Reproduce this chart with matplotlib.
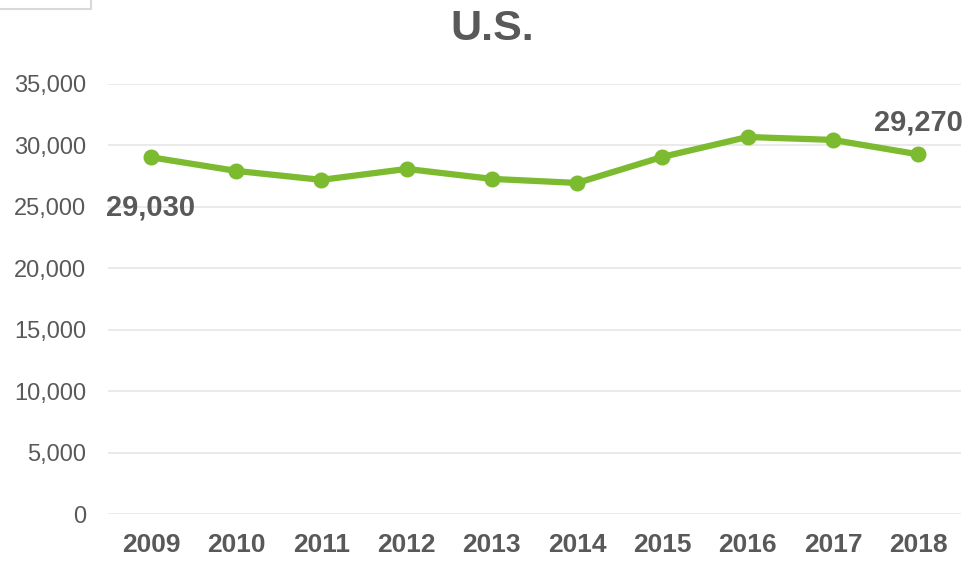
import matplotlib
matplotlib.use("Agg")
import matplotlib.pyplot as plt
from matplotlib.patches import Rectangle
from matplotlib.ticker import FuncFormatter

years = ["2009", "2010", "2011", "2012", "2013", "2014", "2015", "2016", "2017", "2018"]
values = [29030, 27920, 27190, 28080, 27270, 26940, 29060, 30680, 30440, 29270]
yticks = [0, 5000, 10000, 15000, 20000, 25000, 30000, 35000]

green = "#7cba2f"
text_col = "#595959"
plt.rcParams["font.family"] = ["Liberation Sans", "DejaVu Sans"]

fig = plt.figure(figsize=(9.71, 5.63), dpi=100)
ax = fig.add_axes([0.1115, 0.087, 0.878, 0.764])

x = list(range(len(years)))
ax.plot(x, values, color=green, linewidth=4.5, marker="o", markersize=10.5, zorder=3)

# first and last point labels
ax.annotate(f"{values[0]:,}", (x[0], values[0]), xytext=(0, -26), textcoords="offset points",
            ha="center", va="top", fontsize=21, fontweight="bold", color=text_col)
ax.annotate(f"{values[-1]:,}", (x[-1], values[-1]), xytext=(0, 13), textcoords="offset points",
            ha="center", va="bottom", fontsize=21, fontweight="bold", color=text_col)

ax.set_xlim(-0.5, len(years) - 0.5)
ax.set_ylim(0, 35000)
ax.set_yticks(yticks)
ax.yaxis.set_major_formatter(FuncFormatter(lambda v, p: f"{int(v):,}"))
ax.set_xticks(x)
ax.set_xticklabels(years, fontsize=19, fontweight="bold", color=text_col)
ax.tick_params(axis="y", labelsize=17, labelcolor=text_col, length=0, pad=16)
ax.tick_params(axis="x", length=0, pad=14)
ax.grid(axis="y", color="#e6e6e6", linewidth=1.2)
ax.set_axisbelow(True)
for s in ax.spines.values():
    s.set_visible(False)

fig.suptitle("U.S.", x=0.507, y=0.984, fontsize=31, fontweight="bold", color=text_col)

# small box remnant at top-left
fig.patches.append(Rectangle((-0.01, 0.984), 0.104, 0.03, transform=fig.transFigure,
                             fill=False, edgecolor="#d9d9d9", linewidth=1.5))

fig.savefig("out.png", dpi=100)
